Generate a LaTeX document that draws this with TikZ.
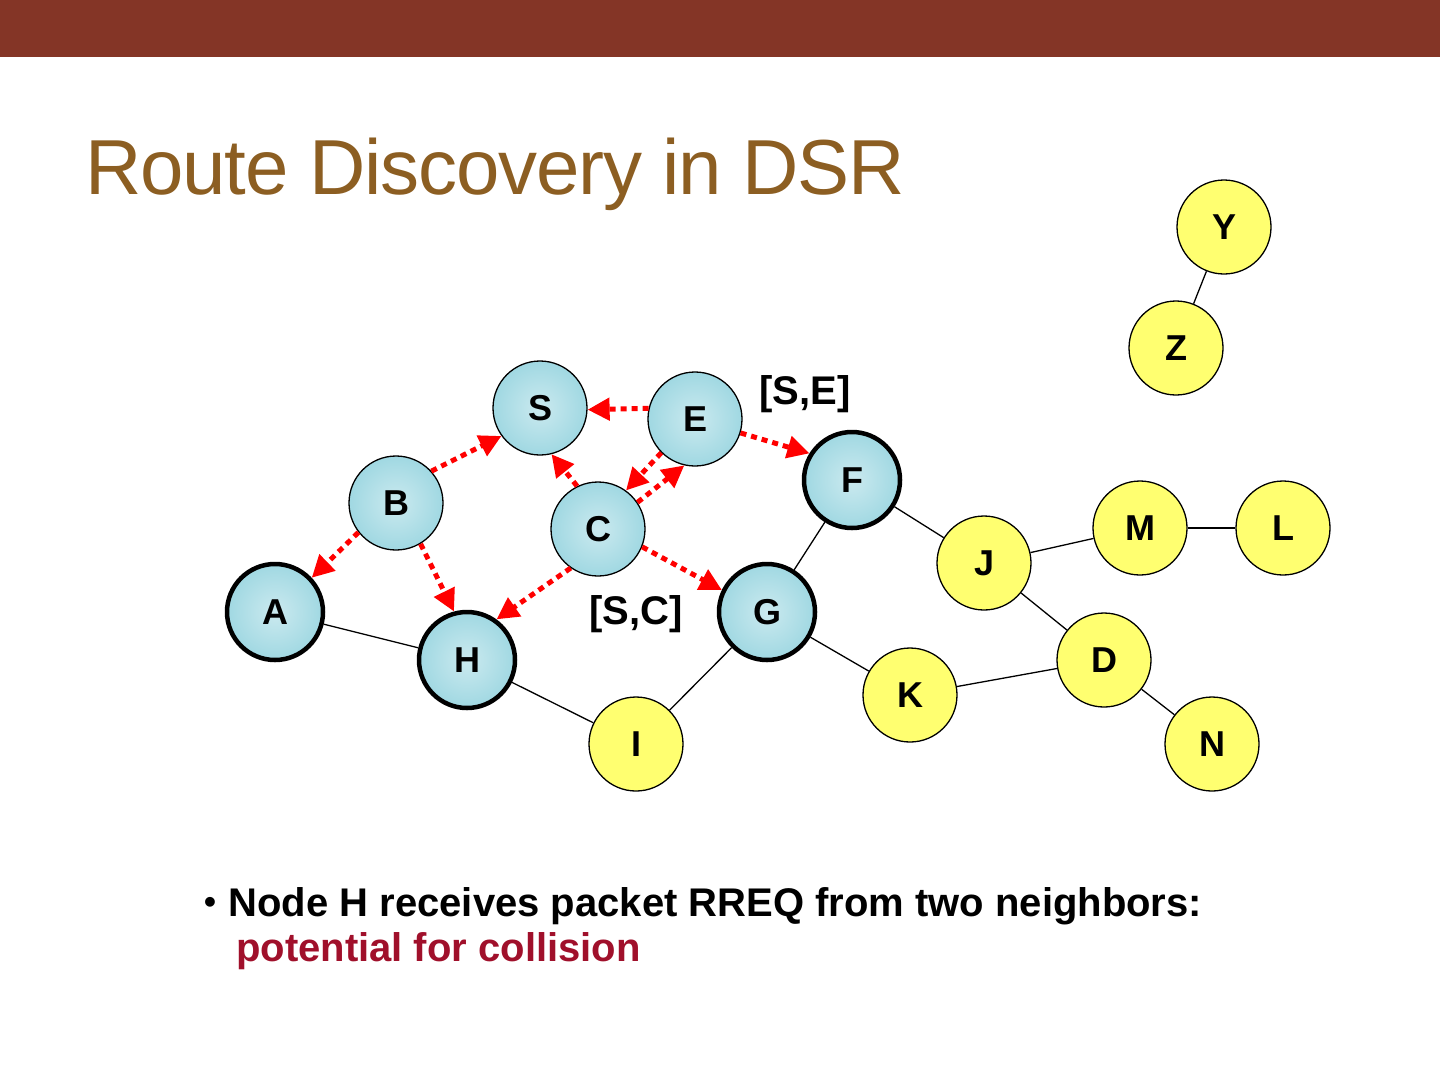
\documentclass[tikz,border=0pt]{standalone}
\usepackage{fontspec}
\setmainfont{Liberation Sans}
\newfontfamily\titlefont[LetterSpace=-1.5]{Liberation Sans}
\usetikzlibrary{arrows.meta, positioning}
\usepackage{xcolor}

\definecolor{topbar}{RGB}{132,53,38}
\definecolor{titlebrown}{RGB}{140,94,34}
\definecolor{crimson}{RGB}{160,16,43}
\definecolor{moteblue}{RGB}{160,216,226}
\definecolor{moteyellow}{RGB}{255,255,112}

\tikzset{
  mote/.style={circle, draw=black, line width=1.3pt, minimum size=94pt, inner sep=0pt,
    font=\fontsize{36}{36}\selectfont\bfseries},
  bluemote/.style={mote, inner color=moteblue!55!white, outer color=moteblue},
  yellowmote/.style={mote, fill=moteyellow},
  heard/.style={line width=4.5pt, minimum size=96pt},
  link/.style={line width=1.3pt},
  rreq/.style={red, line width=5pt, dash pattern=on 6pt off 5pt,
    -{Triangle[length=22pt,width=22pt]}},
  tag/.style={font=\fontsize{40}{40}\selectfont\bfseries},
}

\begin{document}
\begin{tikzpicture}[x=1pt, y=-1pt]
    \useasboundingbox (0,0) rectangle (1440,1080);
    \fill[topbar] (0,0) rectangle (1440,57);
    \node[anchor=base west, inner sep=0pt, text=titlebrown] (title) at (85,194)
      {\titlefont\fontsize{78}{78}\selectfont Route Discovery in DSR};

    % nodes that already got the RREQ
    \node[bluemote] (S) at (540,408) {S};
    \node[bluemote] (E) at (695,419) {E};
    \node[bluemote] (B) at (396,503) {B};
    \node[bluemote] (C) at (598,529) {C};
    \node[bluemote, heard] (F) at (852,480) {F};
    \node[bluemote, heard] (A) at (275,612) {A};
    \node[bluemote, heard] (G) at (767,612) {G};
    \node[bluemote, heard] (H) at (467,660) {H};

    % the rest
    \node[yellowmote] (Y) at (1224,227) {Y};
    \node[yellowmote] (Z) at (1176,348) {Z};
    \node[yellowmote] (M) at (1140,528) {M};
    \node[yellowmote] (L) at (1283,528) {L};
    \node[yellowmote] (J) at (984,563) {J};
    \node[yellowmote] (D) at (1104,660) {D};
    \node[yellowmote] (K) at (910,695) {K};
    \node[yellowmote] (I) at (636,744) {I};
    \node[yellowmote] (N) at (1212,744) {N};

    \draw[link] (Y) -- (Z);
    \draw[link] (F) -- (J);
    \draw[link] (J) -- (M);
    \draw[link] (M) -- (L);
    \draw[link] (J) -- (D);
    \draw[link] (D) -- (N);
    \draw[link] (D) -- (K);
    \draw[link] (K) -- (G);
    \draw[link] (G) -- (F);
    \draw[link] (G) -- (I);
    \draw[link] (A) -- (H);
    \draw[link] (H) -- (I);

    \draw[rreq] (E.167) -- (S.-2);
    \draw[rreq] (B.42) -- (S.216);
    \draw[rreq] (C.116) -- (S.284);
    \draw[rreq] (E.225) -- (C.54);
    \draw[rreq] (C.34) -- (E.257);
    \draw[rreq] (E.343) -- (F.148);
    \draw[rreq] (B.218) -- (A.43);
    \draw[rreq] (B.301) -- (H.105);
    \draw[rreq] (C.235) -- (H.54);
    \draw[rreq] (C.338) -- (G.154);

    \node[tag] (se) at (805,394) {[S,E]};
    \node[tag] (sc) at (636,614) {[S,C]};

    \node[anchor=base west, inner sep=0pt, font=\fontsize{40}{40}\selectfont\bfseries] (note) at (204,916)
      {{\fontsize{34}{34}\selectfont\raisebox{3pt}{•}}\hspace{12.5pt}Node H receives packet RREQ from two neighbors:};
    \node[anchor=base west, inner sep=0pt, text=crimson, font=\fontsize{40}{40}\selectfont\bfseries] (note2) at (236,961)
      {potential for collision};
\end{tikzpicture}
\end{document}
